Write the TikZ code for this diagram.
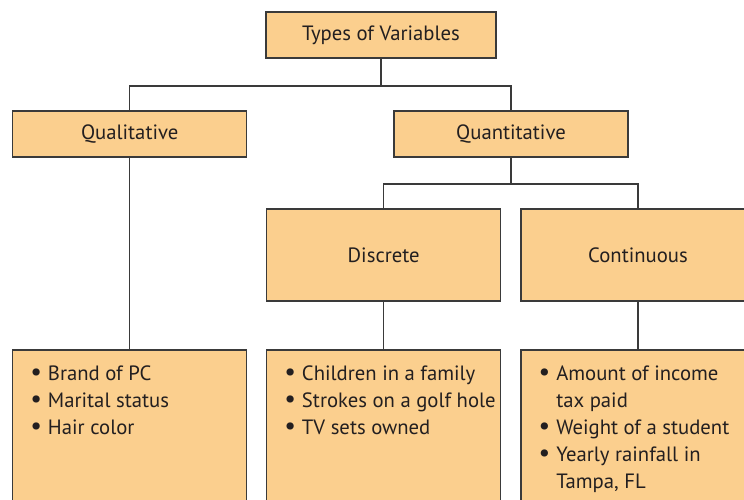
\documentclass[tikz,border=0pt]{standalone}
\usepackage{fontspec}
\setmainfont{PT Sans}
\usetikzlibrary{positioning}
\definecolor{boxfill}{HTML}{FBCF8E}
\definecolor{boxline}{HTML}{3A3A3A}
\definecolor{inkgray}{HTML}{231F20}
\newcommand{\bulletmark}{\scalebox{1.25}{•}}

\begin{document}
\begin{tikzpicture}[x=1pt, y=1pt,
    catbox/.style={draw=boxline, line width=1.2pt, fill=boxfill, inner sep=0pt,
        minimum width=234pt, minimum height=46pt, text=inkgray,
        font=\fontsize{20.7}{27}\selectfont},
    leafbox/.style={catbox, minimum height=170pt},
    itemlist/.style={inner sep=0pt, anchor=base west, text=inkgray,
        font=\fontsize{20.7}{27}\selectfont},
    link/.style={draw=boxline, line width=1.3pt}]
\useasboundingbox (0,0) rectangle (744,-500);
\clip (0,0) rectangle (744,-500);

% category boxes
\node[catbox, minimum width=230pt] (types) at (381,-35) {Types of Variables};
\node[catbox] (qual) at (129.7,-134) {Qualitative};
\node[catbox] (quant) at (511,-134) {Quantitative};
\node[catbox, minimum height=92pt] (disc) at (383.7,-255) {Discrete};
\node[catbox, minimum height=92pt] (cont) at (638,-255) {Continuous};

% example boxes
\node[leafbox, anchor=north] (qualbox) at (129.7,-349.3) {};
\node[leafbox, anchor=north] (discbox) at (383.7,-349.3) {};
\node[leafbox, anchor=north] (contbox) at (638,-349.3) {};

\coordinate (j1) at (types.south |- 0,-86);
\coordinate (j2) at (quant.south |- 0,-184);

% connectors
\draw[link] (types.south) -- (j1);
\draw[link] (qual.north) |- (j1) -| (quant.north);
\draw[link] (quant.south) -- (j2);
\draw[link] (disc.north) |- (j2) -| (cont.north);
\draw[link] (qual.south) -- (qualbox.north);
\draw[link] (disc.south) -- (discbox.north);
\draw[link] (cont.south) -- (contbox.north);

% lists
\node[itemlist] (quallist) at ([shift={(18,-31.4)}]qualbox.north west)
    {\begin{tabular}[t]{@{}l@{\hspace{6pt}}l@{}}
     \bulletmark & Brand of PC\\ \bulletmark & Marital status\\ \bulletmark & Hair color
     \end{tabular}};
\node[itemlist] (disclist) at ([shift={(18,-31.4)}]discbox.north west)
    {\begin{tabular}[t]{@{}l@{\hspace{6pt}}l@{}}
     \bulletmark & Children in a family\\ \bulletmark & Strokes on a golf hole\\ \bulletmark & TV sets owned
     \end{tabular}};
\node[itemlist] (contlist) at ([shift={(18,-31.4)}]contbox.north west)
    {\begin{tabular}[t]{@{}l@{\hspace{6pt}}l@{}}
     \bulletmark & Amount of income\\ & tax paid\\ \bulletmark & Weight of a student\\
     \bulletmark & Yearly rainfall in\\ & Tampa, FL
     \end{tabular}};
\end{tikzpicture}
\end{document}
